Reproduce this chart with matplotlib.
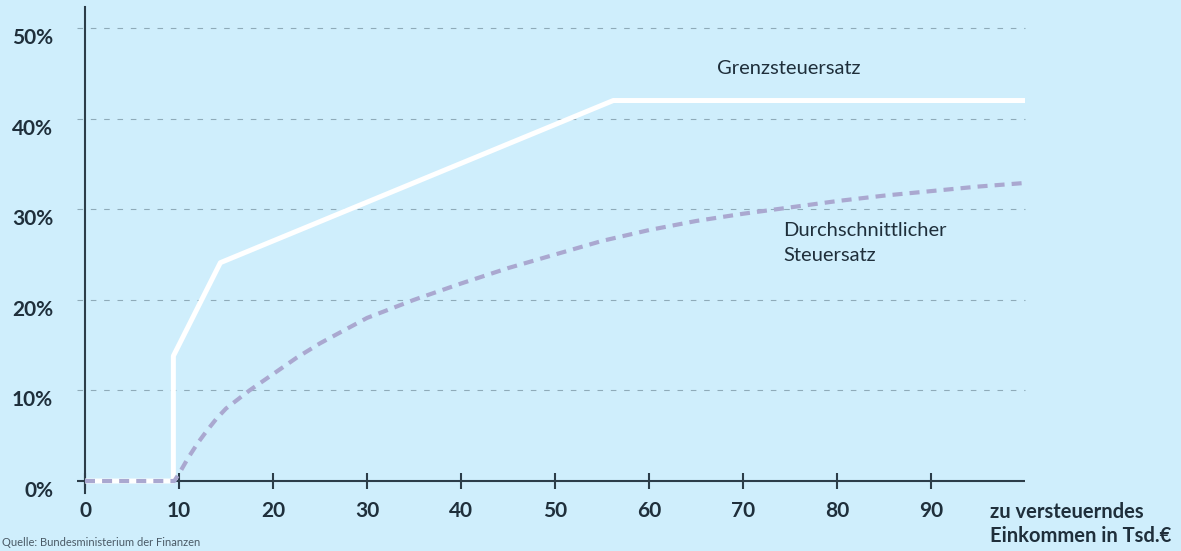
import matplotlib
matplotlib.use("Agg")
import matplotlib.pyplot as plt
import matplotlib.transforms as mtransforms

# ---- data ----
grenz_x = [0, 9.4, 9.4, 14.4, 56.2, 100]
grenz_y = [0, 0, 13.8, 24.1, 42.0, 42.0]

avg_x = [0, 9.5, 10, 11, 12, 13, 14, 15, 17.5, 20, 22.5, 25, 30, 35, 40, 45, 50, 55, 60, 65, 70, 75, 80, 85, 90, 95, 100]
avg_y = [0, 0, 0.8, 2.6, 4.2, 5.6, 6.9, 8.0, 10.0, 11.8, 13.6, 15.2, 18.0, 20.0, 21.8, 23.5, 25.0, 26.5, 27.7, 28.7, 29.5, 30.2, 30.9, 31.5, 32.0, 32.5, 32.9]

x_ticks = [0, 10, 20, 30, 40, 50, 60, 70, 80, 90]
x_ticklabels = ["0", "10", "20", "30", "40", "50", "60", "70", "80", "90"]
y_ticks = [0, 10, 20, 30, 40, 50]
y_ticklabels = ["0%", "10%", "20%", "30%", "40%", "50%"]

label_grenz = "Grenzsteuersatz"
label_avg = "Durchschnittlicher\nSteuersatz"
x_label = "zu versteuerndes\nEinkommen in Tsd.€"
source = "Quelle: Bundesministerium der Finanzen"

# ---- style ----
BG = "#cfeefc"
DARK = "#1f2f3b"
AXC = "#2c3d49"
GRID = "#8fabb9"
PURPLE = "#aaa8d0"
plt.rcParams["font.family"] = ["Lato", "DejaVu Sans"]

fig = plt.figure(figsize=(11.81, 5.51), dpi=100, facecolor=BG)
ax = fig.add_axes([85 / 1181, (551 - 492.8) / 551, 940 / 1181, 485.6 / 551])
ax.set_facecolor(BG)
ax.set_xlim(0, 100)
ax.set_ylim(-1.3, 52.3)

# spines
for s in ["top", "right", "bottom"]:
    ax.spines[s].set_visible(False)
ax.spines["bottom"].set_position(("data", 0))
ax.spines["left"].set_color(AXC)
ax.spines["left"].set_linewidth(1.5)
ax.spines["left"].set_zorder(3)

# gridlines (extend slightly left of axis)
for yv in y_ticks[1:]:
    ax.plot([-0.85, 100], [yv, yv], color=GRID, lw=0.8, dashes=(5, 7),
            clip_on=False, zorder=1)
# x-axis base line
ax.plot([-0.85, 100], [0, 0], color=AXC, lw=1.5, clip_on=False, zorder=2,
        solid_capstyle="butt")

# lines
ax.plot(grenz_x, grenz_y, color="white", lw=3.6, solid_joinstyle="round",
        solid_capstyle="butt", zorder=4, clip_on=False)
ax.plot(avg_x, avg_y, color=PURPLE, lw=3.0, dashes=(2.4, 1.7), zorder=5,
        clip_on=False)

# ticks
ax.xaxis.set_ticks_position("bottom")
ax.set_xticks(x_ticks)
ax.set_xticklabels(x_ticklabels, fontsize=15, fontweight="bold", color=DARK)
ax.tick_params(axis="x", direction="inout", length=11, width=1.5, color=AXC, pad=9)
ax.set_yticks(y_ticks)
ax.set_yticklabels(y_ticklabels, fontsize=15, fontweight="bold", color=DARK)
ax.tick_params(axis="y", length=0, pad=23)
off = mtransforms.ScaledTranslation(0, -8 / 100, fig.dpi_scale_trans)
for lab in ax.get_yticklabels():
    lab.set_transform(lab.get_transform() + off)

# annotations
ax.text(74.9, 45.5, label_grenz, ha="center", va="center", fontsize=14.5, color=DARK)
ax.text(74.3, 28.6, label_avg, ha="left", va="top", fontsize=14.5, color=DARK,
        linespacing=1.6)
ax.text(96.3, -2.3, x_label, ha="left", va="top", fontsize=14.5, fontweight="bold",
        color=DARK, linespacing=1.25, clip_on=False)

fig.text(2 / 1181, (551 - 543) / 551, source, ha="left", va="center",
         fontsize=8, color="#4a5a66")

fig.savefig("out.png", dpi=100, facecolor=BG)
